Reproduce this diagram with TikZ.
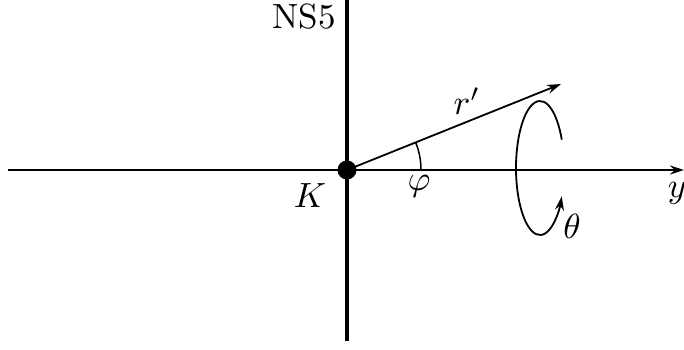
\documentclass[tikz,border=0pt]{standalone}
\usetikzlibrary{arrows.meta}
\begin{document}
\begin{tikzpicture}[x=1pt,y=-1pt,
  thin axis/.style={line width=1.8pt},
  thick brane/.style={line width=4.5pt},
  arr/.style={-{Stealth[length=14pt,width=9pt]}},
  lbl/.style={font=\fontsize{10}{12}\selectfont, inner sep=0pt, scale=3.5}]
\useasboundingbox (0,0) rectangle (684,349);
\coordinate (O) at (347,170);
\coordinate (L) at (8,170);
\coordinate (R) at (684,170);
\coordinate (T) at (347,0);
\coordinate (B) at (347,341);
\coordinate (P) at (561,84);
\draw[thin axis, arr] (L) -- (R);
\draw[thick brane] (T) -- (B);
\draw[thin axis, arr] (O) -- (P);
\draw[line width=1.5pt] (O) ++(74,0) arc[start angle=0, end angle=-21.9, radius=74];
\fill (O) circle[radius=9.5];
\draw[line width=1.8pt, arr] (540,168) ++(-25:24 and 67) arc[start angle=-25, end angle=-335, x radius=24, y radius=67];
\node[lbl] (ns) at (304,17) {NS5};
\node[lbl] (k) at (310,196) {$K$};
\node[lbl] (phi) at (419,186) {$\varphi$};
\node[lbl] (rp) at (467,101) {$r'$};
\node[lbl] (yl) at (677,193) {$y$};
\node[lbl] (th) at (572,226) {$\theta$};
\end{tikzpicture}
\end{document}
